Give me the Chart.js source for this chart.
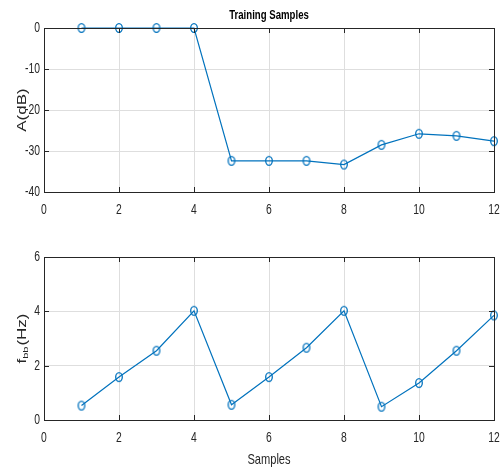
<!DOCTYPE html>
<html>
<head>
<meta charset="utf-8">
<script src="https://cdn.jsdelivr.net/npm/chart.js@4"></script>
<style>
  body { margin: 0; background: #fff; }
  canvas { position: absolute; left: 0; }
  #top { top: 0; }
  #bottom { top: 235px; }
</style>
</head>
<body>
<canvas id="top" width="501" height="235"></canvas>
<canvas id="bottom" width="501" height="235"></canvas>
<script>
const samples = [1, 2, 3, 4, 5, 6, 7, 8, 9, 10, 11, 12];
const ampDb = [0, 0, 0, 0, -32.4, -32.4, -32.4, -33.3, -28.5, -25.8, -26.3, -27.6];
const fbbHz = [0.53, 1.58, 2.55, 4.02, 0.56, 1.58, 2.66, 4.02, 0.49, 1.36, 2.55, 3.85];

const xTicks = [0, 2, 4, 6, 8, 10, 12];
const ampTicks = [-40, -30, -20, -10, 0];
const fbbTicks = [0, 2, 4, 6];

const lineBlue = '#0072BD';
const sans = "'Liberation Sans', Arial, sans-serif";
const squeeze = 0.74;   // the picture is narrow, text looks condensed

// open marker, a bit taller than wide like in the picture
const marker = document.createElement('canvas');
marker.width = 12;
marker.height = 12;
(function () {
    const m = marker.getContext('2d');
    m.strokeStyle = lineBlue;
    m.lineWidth = 1.3;
    m.beginPath();
    m.ellipse(6, 6, 3.3, 4.3, 0, 0, Math.PI * 2);
    m.stroke();
})();

// draw text squeezed horizontally
function narrowText(c, text, x, y, font, align) {
    c.save();
    c.font = font;
    c.textAlign = align;
    c.translate(x, y);
    c.scale(squeeze, 1);
    c.fillText(text, 0, 0);
    c.restore();
}

// box, inward ticks on all four sides and all the texts
const boxPlugin = {
    id: 'box',
    afterDatasetsDraw(chart, args, opts) {
        const c = chart.ctx;
        const a = chart.chartArea;
        const xs = chart.scales.x, ys = chart.scales.y;
        const len = 5;
        c.save();
        c.strokeStyle = '#262626';
        c.lineWidth = 1;
        c.beginPath();
        xs.ticks.forEach(t => {
            const px = Math.round(xs.getPixelForValue(t.value)) + 0.5;
            c.moveTo(px, a.bottom); c.lineTo(px, a.bottom - len);
            c.moveTo(px, a.top); c.lineTo(px, a.top + len);
        });
        ys.ticks.forEach(t => {
            const py = Math.round(ys.getPixelForValue(t.value)) + 0.5;
            c.moveTo(a.left, py); c.lineTo(a.left + len, py);
            c.moveTo(a.right, py); c.lineTo(a.right - len, py);
        });
        c.stroke();
        c.strokeRect(Math.round(a.left) + 0.5, Math.round(a.top) + 0.5,
            Math.round(a.right - a.left), Math.round(a.bottom - a.top));
        c.restore();
    },
    afterDraw(chart, args, opts) {
        const c = chart.ctx;
        const a = chart.chartArea;
        const xs = chart.scales.x, ys = chart.scales.y;
        const cx = (a.left + a.right) / 2;
        c.save();
        c.fillStyle = '#262626';
        c.textBaseline = 'middle';
        xs.ticks.forEach(t => {
            narrowText(c, String(t.value), xs.getPixelForValue(t.value), a.bottom + 18, '14px ' + sans, 'center');
        });
        ys.ticks.forEach(t => {
            narrowText(c, String(t.value), a.left - 4, ys.getPixelForValue(t.value), '14px ' + sans, 'right');
        });
        if (opts.title) {
            c.fillStyle = '#000';
            narrowText(c, opts.title, cx, a.top - 13, 'bold 13px ' + sans, 'center');
            c.fillStyle = '#262626';
        }
        if (opts.xLabel) {
            narrowText(c, opts.xLabel, cx, a.bottom + 40, '15px ' + sans, 'center');
        }
        // rotated y label, in pieces so a subscript can be drawn
        const parts = opts.yLabel;
        c.translate(26, (a.top + a.bottom) / 2);
        c.rotate(-Math.PI / 2);
        c.scale(1, 0.7);
        c.textAlign = 'left';
        c.textBaseline = 'alphabetic';
        const fontOf = p => (p.sub ? 11 : 17) + 'px ' + sans;
        let total = 0;
        parts.forEach(p => {
            c.font = fontOf(p);
            total += c.measureText(p.text).width + (p.sub ? 1 : 0);
        });
        let x = -total / 2;
        parts.forEach(p => {
            c.font = fontOf(p);
            c.fillText(p.text, x, p.sub ? 3 : 0);
            x += c.measureText(p.text).width + (p.sub ? 1 : 0);
        });
        c.restore();
    }
};

function makeChart(id, values, yMin, yMax, yTicks, topPad, xHeight, extra) {
    return new Chart(document.getElementById(id), {
        type: 'scatter',
        data: {
            datasets: [{
                data: samples.map((s, i) => ({ x: s, y: values[i] })),
                showLine: true,
                borderColor: lineBlue,
                borderWidth: 1.2,
                pointStyle: marker,
                pointRadius: 4,
                clip: false
            }]
        },
        options: {
            responsive: false,
            animation: false,
            devicePixelRatio: 1,
            layout: { padding: { top: topPad, right: 7, left: 0, bottom: 0 } },
            plugins: {
                legend: { display: false },
                tooltip: { enabled: false },
                box: extra
            },
            scales: {
                x: {
                    type: 'linear',
                    min: 0, max: 12,
                    afterFit: s => { s.height = xHeight; s.paddingLeft = 0; s.paddingRight = 0; },
                    afterBuildTicks: s => { s.ticks = xTicks.map(v => ({ value: v })); },
                    grid: { color: '#dedede', drawTicks: false },
                    border: { display: false },
                    ticks: { display: false }
                },
                y: {
                    min: yMin, max: yMax,
                    afterFit: s => { s.width = 44; s.paddingTop = 0; s.paddingBottom = 0; },
                    afterBuildTicks: s => { s.ticks = yTicks.map(v => ({ value: v })); },
                    grid: { color: '#dedede', drawTicks: false },
                    border: { display: false },
                    ticks: { display: false }
                }
            }
        },
        plugins: [boxPlugin]
    });
}

makeChart('top', ampDb, -40, 0, ampTicks, 28, 43, {
    title: 'Training Samples',
    yLabel: [{ text: 'A(dB)' }]
});

makeChart('bottom', fbbHz, 0, 6, fbbTicks, 22, 50, {
    xLabel: 'Samples',
    yLabel: [{ text: 'f' }, { text: 'bb', sub: true }, { text: '(Hz)' }]
});
</script>
</body>
</html>
